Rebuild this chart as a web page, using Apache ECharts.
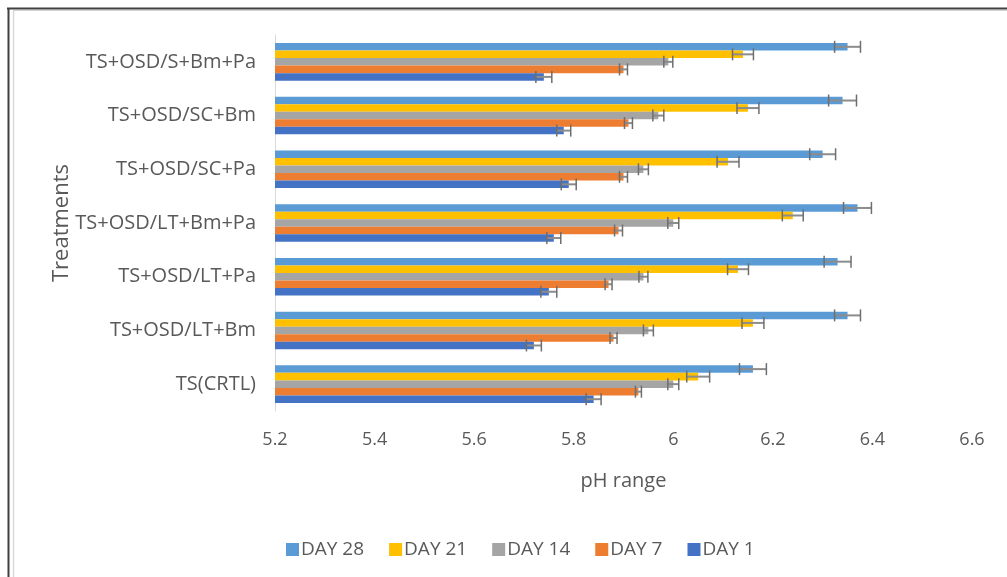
<!DOCTYPE html>
<html>
<head>
<meta charset="utf-8">
<script src="https://cdn.jsdelivr.net/npm/echarts@6/dist/echarts.min.js"></script>
<style>html,body{margin:0;padding:0;background:#fff}#c{width:1007px;height:577px}</style>
</head>
<body>
<div id="c"></div>
<script>
// Categories top to bottom
const categories = ['TS+OSD/S+Bm+Pa','TS+OSD/SC+Bm','TS+OSD/SC+Pa','TS+OSD/LT+Bm+Pa','TS+OSD/LT+Pa','TS+OSD/LT+Bm','TS(CRTL)'];
const seriesNames = ['DAY 28','DAY 21','DAY 14','DAY 7','DAY 1'];
const day28 = [6.35, 6.34, 6.30, 6.37, 6.33, 6.35, 6.16];
const day21 = [6.14, 6.15, 6.11, 6.24, 6.13, 6.16, 6.05];
const day14 = [5.99, 5.97, 5.94, 6.00, 5.94, 5.95, 6.00];
const day7  = [5.90, 5.91, 5.90, 5.89, 5.87, 5.88, 5.93];
const day1  = [5.74, 5.78, 5.79, 5.76, 5.75, 5.72, 5.84];
const err28 = [0.026, 0.028, 0.026, 0.028, 0.027, 0.026, 0.027];
const err21 = [0.021, 0.022, 0.022, 0.021, 0.021, 0.022, 0.023];
const err14 = [0.009, 0.011, 0.010, 0.011, 0.009, 0.010, 0.011];
const err7  = [0.008, 0.008, 0.008, 0.008, 0.007, 0.007, 0.006];
const err1  = [0.016, 0.014, 0.015, 0.014, 0.016, 0.015, 0.015];
const xTicks = [5.2, 5.4, 5.6, 5.8, 6, 6.2, 6.4, 6.6];

const colors = ['#5B9BD5','#FFC000','#A5A5A5','#ED7D31','#4472C4'];
const values = [day28, day21, day14, day7, day1];
const errs = [err28, err21, err14, err7, err1];
const FONT = 'Open Sans';
const TXT = '#595959';
const CAT_GAP = 0.3;
const NS = seriesNames.length;

const series = [];
seriesNames.forEach((name, k) => {
  series.push({
    name: name, type: 'bar', data: values[k],
    itemStyle: { color: colors[k] },
    barGap: '0%', barCategoryGap: (CAT_GAP*100) + '%',
    z: 2
  });
});
seriesNames.forEach((name, k) => {
  series.push({
    name: name + ' err', type: 'custom', z: 5,
    data: values[k].map((v, i) => [v, i, errs[k][i]]),
    encode: { x: 0, y: 1 },
    renderItem: function (params, api) {
      const v = api.value(0), idx = api.value(1), e = api.value(2);
      const band = api.size([0, 1])[1];
      const barW = band * (1 - CAT_GAP) / NS;
      const c = api.coord([v, idx]);
      const y = c[1] - band * (1 - CAT_GAP) / 2 + (k + 0.5) * barW;
      const lo = api.coord([v - e, idx])[0];
      const hi = api.coord([v + e, idx])[0];
      const capH = 6;
      const st = { stroke: '#6e6e6e', lineWidth: 1.5 };
      return { type: 'group', children: [
        { type: 'line', shape: { x1: lo, y1: y, x2: hi, y2: y }, style: { stroke: '#8c8c8c', lineWidth: 2 } },
        { type: 'line', shape: { x1: lo, y1: y - capH, x2: lo, y2: y + capH }, style: st },
        { type: 'line', shape: { x1: hi, y1: y - capH, x2: hi, y2: y + capH }, style: st }
      ]};
    }
  });
});

const chart = echarts.init(document.getElementById('c'), null, { renderer: 'canvas' });
chart.setOption({
  animation: false,
  textStyle: { fontFamily: FONT },
  grid: { left: 275, right: 35, top: 35, bottom: 166, containLabel: false },
  legend: {
    data: seriesNames, left: 281, top: 535, itemWidth: 13, itemHeight: 13, itemGap: 25,
    icon: 'rect',
    textStyle: { color: TXT, fontSize: 19, fontFamily: FONT, padding: [0, 0, 0, -3] }
  },
  xAxis: {
    type: 'value', min: xTicks[0], max: xTicks[xTicks.length - 1], interval: 0.2,
    name: 'pH range', nameLocation: 'middle', nameGap: 60, nameMoveOverlap: false,
    nameTextStyle: { color: TXT, fontSize: 20, fontFamily: FONT },
    axisLine: { show: false }, axisTick: { show: false }, splitLine: { show: false },
    axisLabel: { color: TXT, fontSize: 18, margin: 20, fontFamily: FONT,
      formatter: v => String(parseFloat(v.toFixed(1))) }
  },
  yAxis: {
    type: 'category', data: categories, inverse: true,
    name: 'Treatments', nameLocation: 'middle', nameGap: 202, nameMoveOverlap: false,
    nameTextStyle: { color: TXT, fontSize: 22, fontFamily: FONT },
    axisLine: { show: true, lineStyle: { color: '#d9d9d9', width: 1 } },
    axisTick: { show: false }, splitLine: { show: false },
    axisLabel: { color: TXT, fontSize: 20, margin: 19, fontFamily: FONT }
  },
  graphic: [
    { type: 'line', shape: { x1: 7, y1: 8.5, x2: 1007, y2: 8.5 }, style: { stroke: '#404040', lineWidth: 2 }, silent: true },
    { type: 'line', shape: { x1: 8.5, y1: 8, x2: 8.5, y2: 577 }, style: { stroke: '#404040', lineWidth: 2 }, silent: true },
    { type: 'line', shape: { x1: 13.5, y1: 11, x2: 13.5, y2: 577 }, style: { stroke: '#d9d9d9', lineWidth: 1.5 }, silent: true },
    { type: 'line', shape: { x1: 13, y1: 10.5, x2: 1007, y2: 10.5 }, style: { stroke: '#d0d0d0', lineWidth: 1 }, silent: true }
  ],
  series: series
});
</script>
</body>
</html>
